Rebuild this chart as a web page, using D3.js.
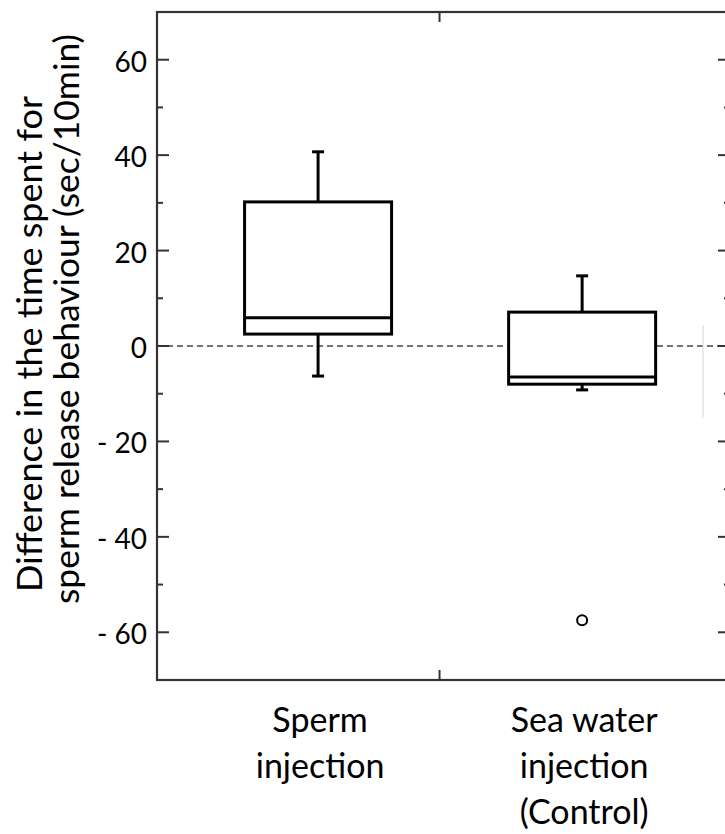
<!DOCTYPE html>
<html>
<head>
<meta charset="utf-8">
<script src="https://cdn.jsdelivr.net/npm/d3@7"></script>
<style>
  body { margin: 0; background: #fff; }
  text { font-family: Lato, "Open Sans", sans-serif; fill: #000; }
</style>
</head>
<body>
<script>
// values
var groups = ["Sperm injection", "Sea water injection (Control)"];
var group_pos = [1, 2];
var label_lines = [["Sperm", "injection"], ["Sea water", "injection", "(Control)"]];
var whisker_low = [-6.3, -9.2];
var q1 = [2.5, -8.0];
var median = [5.9, -6.5];
var q3 = [30.2, 7.1];
var whisker_high = [40.7, 14.7];
var outliers = [[], [-57.5]];

var major_ticks = [-60, -40, -20, 0, 20, 40, 60];
var minor_ticks = [-50, -30, -10, 10, 30, 50];
var tick_labels = ["- 60", "- 40", "- 20", "0", "20", "40", "60"];
var x_ticks = [1.46];

var width = 725, height = 834;
var plot_left = 157, plot_right = 730, plot_top = 12, plot_bottom = 680;
var box_width = 147;
var cap_width = 12;

var svg = d3.select("body").append("svg")
    .attr("width", width)
    .attr("height", height);

var x_scale = d3.scaleLinear()
    .domain([0.39, 2.56])
    .range([plot_left, plot_right]);

var y_scale = d3.scaleLinear()
    .domain([-70, 70])
    .range([plot_bottom, plot_top]);

// zero reference line
svg.append("line")
    .attr("x1", plot_left).attr("x2", plot_right)
    .attr("y1", y_scale(0)).attr("y2", y_scale(0))
    .attr("stroke", "#444")
    .attr("stroke-width", 1.5)
    .attr("stroke-dasharray", "6,4");

// faint scan artefact at right
svg.append("line")
    .attr("x1", 703).attr("x2", 703)
    .attr("y1", 325).attr("y2", 418)
    .attr("stroke", "#d8d8d8")
    .attr("stroke-width", 1);

// frame
svg.append("rect")
    .attr("x", plot_left).attr("y", plot_top)
    .attr("width", plot_right - plot_left)
    .attr("height", plot_bottom - plot_top)
    .attr("fill", "none")
    .attr("stroke", "#333")
    .attr("stroke-width", 2.2);

// inward ticks, left and right
var all_ticks = major_ticks.map(function(d) { return {v: d, len: 12}; })
  .concat(minor_ticks.map(function(d) { return {v: d, len: 6}; }));

svg.append("g").selectAll("line")
  .data(all_ticks)
  .enter().append("line")
  .attr("x1", plot_left)
  .attr("x2", function(d) { return plot_left + d.len; })
  .attr("y1", function(d) { return y_scale(d.v); })
  .attr("y2", function(d) { return y_scale(d.v); })
  .attr("stroke", "#333").attr("stroke-width", 2);

svg.append("g").selectAll("line")
  .data(all_ticks)
  .enter().append("line")
  .attr("x1", plot_right)
  .attr("x2", function(d) { return plot_right - d.len; })
  .attr("y1", function(d) { return y_scale(d.v); })
  .attr("y2", function(d) { return y_scale(d.v); })
  .attr("stroke", "#333").attr("stroke-width", 2);

// top and bottom ticks
svg.append("g").selectAll("line")
  .data(x_ticks)
  .enter().append("line")
  .attr("x1", function(d) { return x_scale(d); })
  .attr("x2", function(d) { return x_scale(d); })
  .attr("y1", plot_top).attr("y2", plot_top + 10)
  .attr("stroke", "#333").attr("stroke-width", 2);
svg.append("g").selectAll("line")
  .data(x_ticks)
  .enter().append("line")
  .attr("x1", function(d) { return x_scale(d); })
  .attr("x2", function(d) { return x_scale(d); })
  .attr("y1", plot_bottom).attr("y2", plot_bottom - 10)
  .attr("stroke", "#333").attr("stroke-width", 2);

// tick labels
svg.append("g").selectAll("text")
  .data(major_ticks)
  .enter().append("text")
  .attr("x", 147)
  .attr("y", function(d) { return y_scale(d) + 12; })
  .attr("text-anchor", "end")
  .style("font-size", "28px")
  .text(function(d, i) { return tick_labels[i]; });

// boxes
var boxes = svg.append("g").selectAll("g")
  .data(groups)
  .enter().append("g");

boxes.append("line")
  .attr("x1", function(d, i) { return x_scale(group_pos[i]); })
  .attr("x2", function(d, i) { return x_scale(group_pos[i]); })
  .attr("y1", function(d, i) { return y_scale(whisker_high[i]); })
  .attr("y2", function(d, i) { return y_scale(whisker_low[i]); })
  .attr("stroke", "#000").attr("stroke-width", 3);

[whisker_high, whisker_low].forEach(function(arr) {
  boxes.append("line")
    .attr("x1", function(d, i) { return x_scale(group_pos[i]) - cap_width / 2; })
    .attr("x2", function(d, i) { return x_scale(group_pos[i]) + cap_width / 2; })
    .attr("y1", function(d, i) { return y_scale(arr[i]); })
    .attr("y2", function(d, i) { return y_scale(arr[i]); })
    .attr("stroke", "#000").attr("stroke-width", 3);
});

boxes.append("rect")
  .attr("x", function(d, i) { return x_scale(group_pos[i]) - box_width / 2; })
  .attr("y", function(d, i) { return y_scale(q3[i]); })
  .attr("width", box_width)
  .attr("height", function(d, i) { return y_scale(q1[i]) - y_scale(q3[i]); })
  .attr("fill", "#fff")
  .attr("stroke", "#000").attr("stroke-width", 3);

boxes.append("line")
  .attr("x1", function(d, i) { return x_scale(group_pos[i]) - box_width / 2; })
  .attr("x2", function(d, i) { return x_scale(group_pos[i]) + box_width / 2; })
  .attr("y1", function(d, i) { return y_scale(median[i]); })
  .attr("y2", function(d, i) { return y_scale(median[i]); })
  .attr("stroke", "#000").attr("stroke-width", 3);

boxes.each(function(d, i) {
  d3.select(this).selectAll("circle")
    .data(outliers[i])
    .enter().append("circle")
    .attr("cx", x_scale(group_pos[i]))
    .attr("cy", function(v) { return y_scale(v); })
    .attr("r", 5)
    .attr("fill", "#fff")
    .attr("stroke", "#000").attr("stroke-width", 2);
});

// category labels
var cat = svg.append("g").selectAll("text")
  .data(groups)
  .enter().append("text")
  .attr("text-anchor", "middle")
  .style("font-size", "34px");
cat.each(function(d, i) {
  var t = d3.select(this);
  label_lines[i].forEach(function(line, j) {
    t.append("tspan")
      .attr("x", x_scale(group_pos[i]) + 2)
      .attr("y", 732 + j * 46)
      .text(line);
  });
});

// y title, two lines
svg.append("text")
  .attr("transform", "translate(42,344) rotate(-90)")
  .attr("text-anchor", "middle")
  .attr("textLength", 496)
  .attr("lengthAdjust", "spacingAndGlyphs")
  .style("font-size", "34px")
  .text("Difference in the time spent for");
svg.append("text")
  .attr("transform", "translate(79,319) rotate(-90)")
  .attr("text-anchor", "middle")
  .attr("textLength", 570)
  .attr("lengthAdjust", "spacingAndGlyphs")
  .style("font-size", "34px")
  .text("sperm release behaviour (sec/10min)");
</script>
</body>
</html>
